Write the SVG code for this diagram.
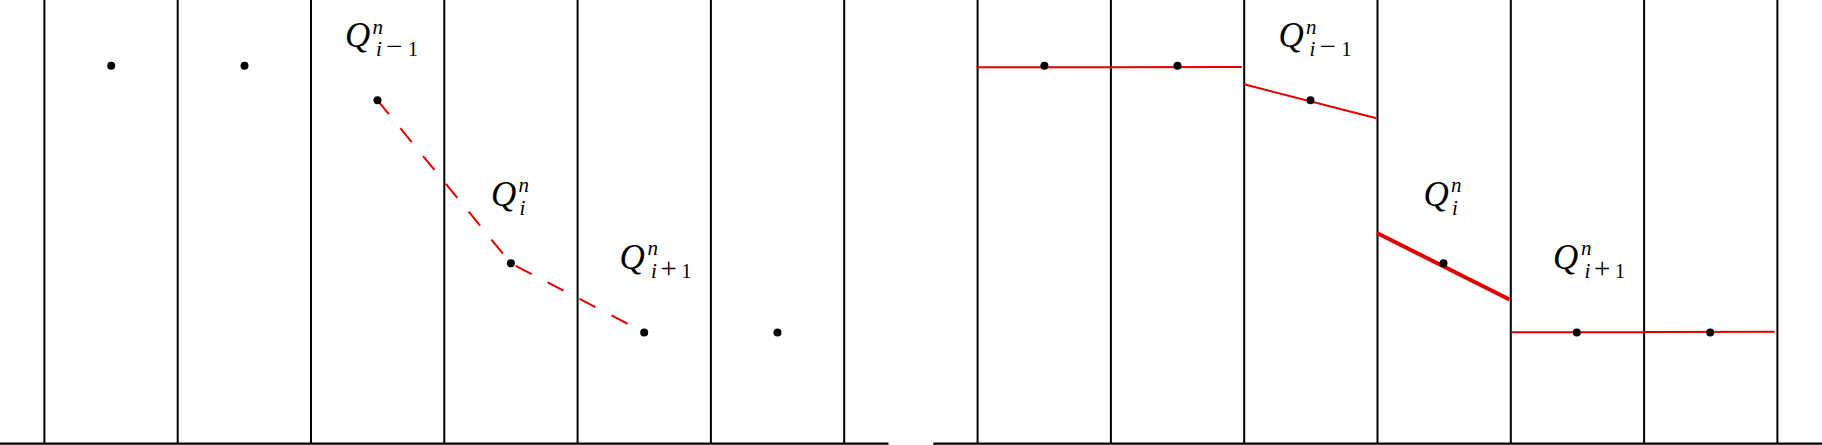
<svg xmlns="http://www.w3.org/2000/svg" width="1822" height="445" viewBox="0 0 1822 445">
<style>
.grid{stroke:#000;stroke-width:2;fill:none}
.base{stroke:#000;stroke-width:2.2;fill:none}
.dot{fill:#000}
.red{stroke:#e00000;stroke-width:2;fill:none}
.thick{stroke:#e00000;stroke-width:4;fill:none}
.dash{stroke:#e00000;stroke-width:2;fill:none;stroke-dasharray:18 18}
.q{font-family:"Liberation Serif",serif;font-style:italic;font-size:35px;fill:#000}
.s{font-family:"Liberation Serif",serif;font-style:italic;font-size:21px;fill:#000}
.u{font-family:"Liberation Serif",serif;font-style:normal;font-size:20px;fill:#000}
.op{font-family:"Liberation Serif",serif;font-style:normal;font-size:29px;fill:#000}
</style>
<rect width="1822" height="445" fill="#fff"/>
<g id="left-panel">
  <g id="left-grid">
    <line class="grid" x1="44.4" y1="0" x2="44.4" y2="443"/>
    <line class="grid" x1="177.7" y1="0" x2="177.7" y2="443"/>
    <line class="grid" x1="311" y1="0" x2="311" y2="443"/>
    <line class="grid" x1="444.3" y1="0" x2="444.3" y2="443"/>
    <line class="grid" x1="577.6" y1="0" x2="577.6" y2="443"/>
    <line class="grid" x1="710.9" y1="0" x2="710.9" y2="443"/>
    <line class="grid" x1="844.2" y1="0" x2="844.2" y2="443"/>
    <line class="base" x1="0" y1="443.6" x2="888.5" y2="443.6"/>
  </g>
  <g id="left-connectors">
    <polyline class="dash" points="377.5,100.3 510.9,263.3 644.2,332.4"/>
  </g>
  <g id="L1"><circle class="dot" cx="111.2" cy="65.7" r="4"/></g>
  <g id="L2"><circle class="dot" cx="244.5" cy="65.7" r="4"/></g>
  <g id="L3"><circle class="dot" cx="377.5" cy="100.3" r="4"/>
    <text class="q" x="345" y="47">Q</text>
    <text class="s" x="372.5" y="33.5">n</text>
    <text class="s" x="376" y="56">i</text><text class="op" x="386" y="56">−</text><text class="u" x="408" y="56">1</text>
  </g>
  <g id="L4"><circle class="dot" cx="510.9" cy="263.3" r="4"/>
    <text class="q" x="491" y="205.5">Q</text>
    <text class="s" x="518.5" y="192">n</text>
    <text class="s" x="519.5" y="214.5">i</text>
  </g>
  <g id="L5"><circle class="dot" cx="644.2" cy="332.4" r="4"/>
    <text class="q" x="619.5" y="268.5">Q</text>
    <text class="s" x="647.5" y="254.5">n</text>
    <text class="s" x="651" y="277.5">i</text><text class="op" x="660.5" y="277.5">+</text><text class="u" x="681.5" y="277.5">1</text>
  </g>
  <g id="L6"><circle class="dot" cx="777.5" cy="332.4" r="4"/></g>
</g>
<g id="right-panel">
  <g id="right-grid">
    <line class="grid" x1="977.6" y1="0" x2="977.6" y2="443"/>
    <line class="grid" x1="1110.9" y1="0" x2="1110.9" y2="443"/>
    <line class="grid" x1="1244.2" y1="0" x2="1244.2" y2="443"/>
    <line class="grid" x1="1377.5" y1="0" x2="1377.5" y2="443"/>
    <line class="grid" x1="1510.8" y1="0" x2="1510.8" y2="443"/>
    <line class="grid" x1="1644.1" y1="0" x2="1644.1" y2="443"/>
    <line class="grid" x1="1777.4" y1="0" x2="1777.4" y2="443"/>
    <line class="base" x1="933.3" y1="443.6" x2="1822" y2="443.6"/>
  </g>
  <g id="right-connectors">
    <line class="red" x1="976.5" y1="67.3" x2="1110.9" y2="67.3"/>
    <line class="red" x1="1110.9" y1="67.2" x2="1241.8" y2="67.1"/>
    <line class="red" x1="1244.2" y1="84.3" x2="1376.5" y2="118.3"/>
    <line class="thick" x1="1377" y1="233" x2="1509.5" y2="299.5"/>
    <line class="red" x1="1511.7" y1="332.3" x2="1644.1" y2="332.3"/>
    <line class="red" x1="1644.1" y1="332" x2="1774.5" y2="331.8"/>
  </g>
  <g id="R1"><circle class="dot" cx="1044.4" cy="65.7" r="4"/></g>
  <g id="R2"><circle class="dot" cx="1177.5" cy="65.7" r="4"/></g>
  <g id="R3"><circle class="dot" cx="1310.5" cy="100.3" r="4"/>
    <text class="q" x="1278.5" y="47">Q</text>
    <text class="s" x="1306" y="33.5">n</text>
    <text class="s" x="1309.5" y="56">i</text><text class="op" x="1319.5" y="56">−</text><text class="u" x="1341.5" y="56">1</text>
  </g>
  <g id="R4"><circle class="dot" cx="1443.5" cy="263.3" r="4"/>
    <text class="q" x="1423.5" y="205.5">Q</text>
    <text class="s" x="1451" y="192">n</text>
    <text class="s" x="1452" y="214.5">i</text>
  </g>
  <g id="R5"><circle class="dot" cx="1576.8" cy="332.6" r="4"/>
    <text class="q" x="1553" y="268.5">Q</text>
    <text class="s" x="1581" y="254.5">n</text>
    <text class="s" x="1584.5" y="277.5">i</text><text class="op" x="1594" y="277.5">+</text><text class="u" x="1615" y="277.5">1</text>
  </g>
  <g id="R6"><circle class="dot" cx="1710.2" cy="332.6" r="4"/></g>
</g>
</svg>
